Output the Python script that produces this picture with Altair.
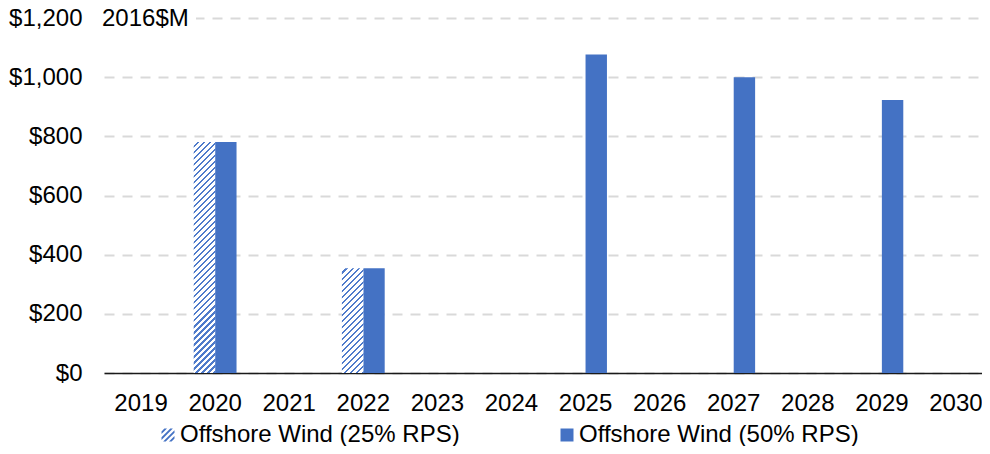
import altair as alt
import pandas as pd

# ---- data ----
YEARS = [2019, 2020, 2021, 2022, 2023, 2024, 2025, 2026, 2027, 2028, 2029, 2030]
RPS25 = [None, 781, None, 354, None, None, None, None, None, None, None, None]
RPS50 = [None, 781, None, 354, None, None, 1077, None, 1000, None, 923, None]
SERIES = ["Offshore Wind (25% RPS)", "Offshore Wind (50% RPS)"]
Y_TICKS = [0, 200, 400, 600, 800, 1000, 1200]
UNIT = ["2016$M"]

rows = []
for yr, a, b in zip(YEARS, RPS25, RPS50):
    if a is not None:
        rows.append({"year": yr, "series": SERIES[0], "value": a})
    if b is not None:
        rows.append({"year": yr, "series": SERIES[1], "value": b})
df = pd.DataFrame(rows)

# ---- styling / layout ----
BLUE = "#4472C4"
HATCH = "#4f7bcb"
FONT = "Liberation Sans"
FS = 24
PLOT_W = 889
PLOT_H = 355
Y_MAX = 1200
OFFSET_PAD = 0.73
BAND = PLOT_W / len(YEARS)
BAR_W = BAND / (2 + 2 * OFFSET_PAD)
HATCH_STEP = 6.0
HATCH_FRAC = 0.36


def hatch_fill(value):
    h = value / Y_MAX * PLOT_H
    w = BAR_W
    n = max(1, round((w + h) / HATCH_STEP))
    k = (w + h) / (w * w + h * h)
    stops = []
    for i in range(n):
        a = i / n
        m = (i + 1 - HATCH_FRAC) / n
        b = (i + 1) / n
        stops += [
            {"offset": a, "color": "#ffffff"},
            {"offset": m, "color": "#ffffff"},
            {"offset": m, "color": HATCH},
            {"offset": b, "color": HATCH},
        ]
    return {"gradient": "linear", "x1": 0, "y1": 0, "x2": k * w, "y2": k * h, "stops": stops}


def clip(poly, f):
    out = []
    for i in range(len(poly)):
        p = poly[i]
        q = poly[(i + 1) % len(poly)]
        fp, fq = f(p), f(q)
        if fp >= 0:
            out.append(p)
        if (fp >= 0) != (fq >= 0):
            t = fp / (fp - fq)
            out.append((p[0] + t * (q[0] - p[0]), p[1] + t * (q[1] - p[1])))
    return out


def hatch_symbol(cs=(-1.35, -0.45, 0.45, 1.35), d=0.2):
    parts = []
    for c in cs:
        poly = [(-1, -1), (1, -1), (1, 1), (-1, 1)]
        poly = clip(poly, lambda p, c=c: p[0] + p[1] - (c - d))
        poly = clip(poly, lambda p, c=c: (c + d) - (p[0] + p[1]))
        if len(poly) >= 3:
            parts.append("M" + " L".join(f"{x:.3f},{y:.3f}" for x, y in poly) + " Z")
    return " ".join(parts)


base = alt.Chart(df).encode(
    x=alt.X(
        "year:O",
        scale=alt.Scale(domain=YEARS, paddingInner=0, paddingOuter=0),
        axis=alt.Axis(
            title=None, labelAngle=0, ticks=False, grid=False,
            domainColor="#1a1a1a", domainWidth=1.5,
            labelPadding=18, labelFontSize=FS,
        ),
    ),
    xOffset=alt.XOffset(
        "series:N",
        scale=alt.Scale(domain=SERIES, paddingInner=0, paddingOuter=OFFSET_PAD),
    ),
    y=alt.Y(
        "value:Q",
        scale=alt.Scale(domain=[0, Y_MAX], nice=False),
        axis=alt.Axis(
            title=None, values=Y_TICKS, format="$,.0f", ticks=False, domain=False,
            labelPadding=22, labelFontSize=FS,
            gridDash=[10, 8], gridColor="#d9d9d9", gridWidth=2,
        ),
    ),
)

solid = base.transform_filter(alt.datum.series == SERIES[1]).mark_bar(fill=BLUE)

hatched = []
for yr, v in zip(YEARS, RPS25):
    if v is None:
        continue
    hatched.append(
        base.transform_filter(
            (alt.datum.series == SERIES[0]) & (alt.datum.year == yr)
        ).mark_bar(fill=hatch_fill(v))
    )

legend_layer = base.transform_filter("false").mark_point(
    filled=True, fill=BLUE, size=169, opacity=1
).encode(
    shape=alt.Shape(
        "series:N",
        scale=alt.Scale(domain=SERIES, range=[hatch_symbol(), "square"]),
        legend=alt.Legend(
            title=None, orient="none", legendX=52, legendY=405,
            direction="horizontal", columnPadding=95,
            labelFontSize=FS, labelLimit=500, labelOffset=0,
            symbolSize=169, symbolFillColor=BLUE, symbolStrokeWidth=0,
            symbolOpacity=1, padding=0, labelColor="#000000",
        ),
    )
)

unit_df = pd.DataFrame({"t": UNIT})
mask = alt.Chart(unit_df).mark_rect(fill="white").encode(
    x=alt.value(-6), x2=alt.value(92), y=alt.value(-12), y2=alt.value(12)
)
unit_text = alt.Chart(unit_df).mark_text(
    align="left", baseline="middle", fontSize=FS, font=FONT, color="#000000"
).encode(text="t:N", x=alt.value(-2), y=alt.value(1))

chart = alt.layer(solid, *hatched, legend_layer, mask, unit_text).properties(
    width=PLOT_W,
    height=PLOT_H,
    autosize="none",
    padding={"left": 96, "top": 10, "right": -11, "bottom": 73},
).configure(font=FONT).configure_axis(
    labelColor="#000000", labelFont=FONT
).configure_legend(labelFont=FONT).configure_view(stroke=None)

chart.save("out.html", embed_options={"renderer": "svg", "actions": False})
